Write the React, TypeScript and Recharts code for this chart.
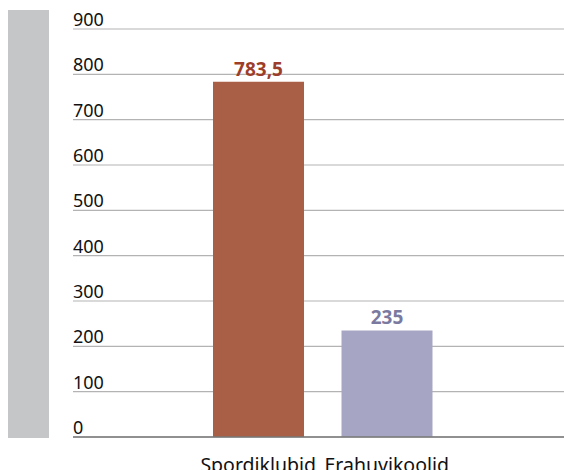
import { BarChart, Bar, XAxis, YAxis, CartesianGrid, Cell, LabelList } from "recharts";

const categories = ["Spordiklubid", "Erahuvikoolid"];
const values = [783.5, 235];
const barColors = ["#a85f45", "#a6a6c4"];
const labelColors = ["#9c3e2a", "#7a7aa0"];
const yTicks = [0, 100, 200, 300, 400, 500, 600, 700, 800, 900];

const data = categories.map((name, i) => ({ name, value: values[i] }));

const FONT = "'Noto Sans', sans-serif";
const PLOT_LEFT = 73;

const YTick = (props: any) => {
  const { y, payload } = props;
  return (
    <text x={PLOT_LEFT} y={y - 3} textAnchor="start" fontSize={18} fontFamily={FONT} fill="#111">
      {payload.value}
    </text>
  );
};

const XTick = (props: any) => {
  const { x, y, payload } = props;
  return (
    <text x={x} y={y} dy={27} textAnchor="middle" fontSize={19.5} fontFamily={FONT} fill="#111">
      {payload.value}
    </text>
  );
};

const ValueLabel = (props: any) => {
  const { x, y, width, value, index } = props;
  return (
    <text
      x={x + width / 2}
      y={y - 6}
      textAnchor="middle"
      fontSize={19}
      fontWeight={700}
      fontFamily={FONT}
      fill={labelColors[index]}
    >
      {String(value).replace(".", ",")}
    </text>
  );
};

export default function App() {
  return (
    <div style={{ position: "absolute", left: 0, top: 0, width: 564, height: 470, background: "#fff" }}>
      <div
        style={{ position: "absolute", left: 8, top: 10, width: 41, height: 428, background: "#c5c6c8" }}
      />
      <BarChart
        width={564}
        height={470}
        data={data}
        margin={{ top: 29, right: 0, bottom: 0, left: PLOT_LEFT - 10 }}
        style={{ position: "absolute", left: 0, top: 0 }}
      >
        <CartesianGrid vertical={false} stroke="#b3b3b3" strokeWidth={1.2} />
        <YAxis
          width={10}
          domain={[0, 900]}
          ticks={yTicks}
          interval={0}
          axisLine={false}
          tickLine={false}
          tick={YTick}
        />
        <XAxis
          dataKey="name"
          height={33}
          padding={{ left: 121, right: 113 }}
          tickLine={false}
          axisLine={{ stroke: "#777", strokeWidth: 1.5 }}
          tick={XTick}
          interval={0}
        />
        <Bar dataKey="value" barSize={91} isAnimationActive={false}>
          {data.map((d, i) => (
            <Cell key={d.name} fill={barColors[i]} />
          ))}
          <LabelList dataKey="value" content={ValueLabel} />
        </Bar>
      </BarChart>
    </div>
  );
}
